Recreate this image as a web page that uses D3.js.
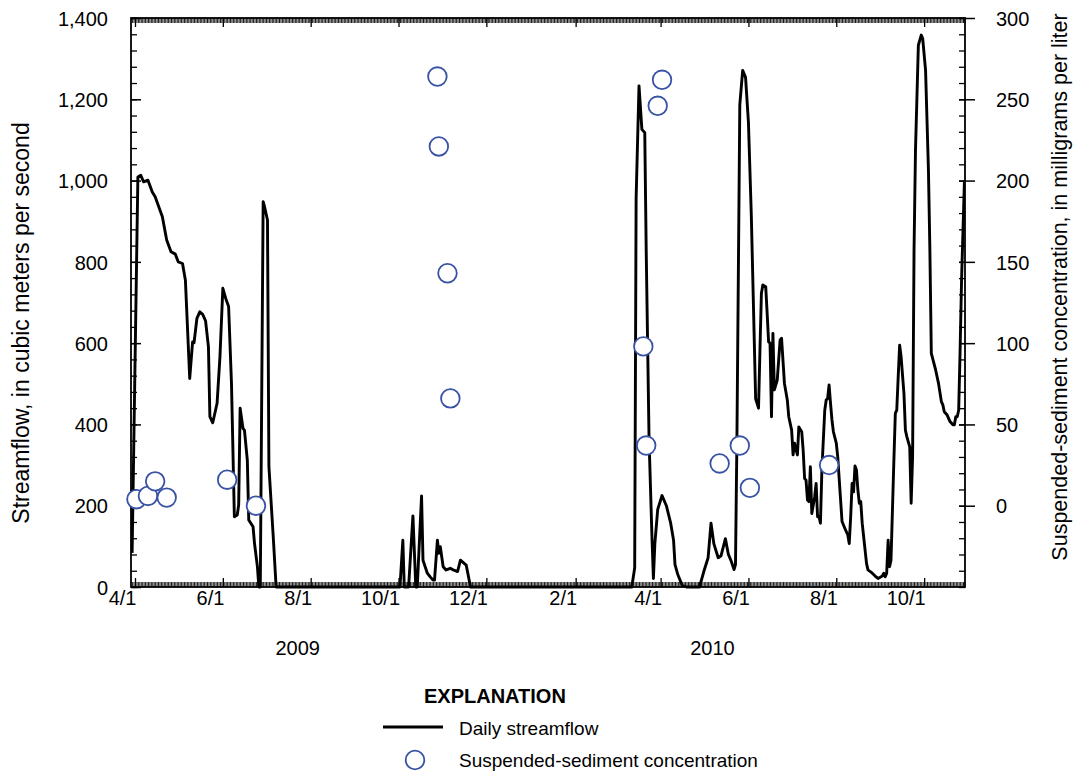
<!DOCTYPE html>
<html><head><meta charset="utf-8">
<script src="https://cdn.jsdelivr.net/npm/d3@7"></script>
<style>
html,body{margin:0;padding:0;background:#fff;}
svg{display:block;font-family:"Liberation Sans", Arial, sans-serif;}
</style></head><body>
<svg id="chart" width="1078" height="772"></svg>
<script>
// ---------------- DATA ----------------
const flowDates = [
"2009-03-30","2009-04-03","2009-04-05","2009-04-07","2009-04-10","2009-04-13","2009-04-15","2009-04-20","2009-04-23","2009-04-26",
"2009-04-29","2009-05-01","2009-05-04","2009-05-06","2009-05-09","2009-05-11","2009-05-12","2009-05-14","2009-05-16","2009-05-18",
"2009-05-20","2009-05-22","2009-05-23","2009-05-25","2009-05-28","2009-05-30","2009-06-01","2009-06-03","2009-06-05","2009-06-07",
"2009-06-09","2009-06-11","2009-06-12","2009-06-13","2009-06-15","2009-06-16","2009-06-18","2009-06-19","2009-06-22","2009-06-23",
"2009-06-25","2009-06-26","2009-06-27","2009-06-29","2009-06-30","2009-07-02","2009-07-03","2009-07-06","2009-07-08",
"2009-10-02","2009-10-04","2009-10-05","2009-10-08","2009-10-11","2009-10-13","2009-10-14","2009-10-17","2009-10-18","2009-10-21",
"2009-10-23","2009-10-25","2009-10-26","2009-10-28","2009-10-29","2009-10-30","2009-11-01","2009-11-03","2009-11-06","2009-11-08",
"2009-11-11","2009-11-13","2009-11-15","2009-11-17","2009-11-20",
"2010-03-12","2010-03-14","2010-03-15","2010-03-17","2010-03-19","2010-03-21","2010-03-22","2010-03-24","2010-03-26","2010-03-27",
"2010-03-28","2010-03-30","2010-04-02","2010-04-05","2010-04-08","2010-04-10","2010-04-11","2010-04-13","2010-04-16","2010-04-19",
"2010-04-28","2010-05-01","2010-05-04","2010-05-06","2010-05-08","2010-05-11","2010-05-13","2010-05-16","2010-05-18","2010-05-20",
"2010-05-22","2010-05-23","2010-05-24","2010-05-26","2010-05-28","2010-05-30","2010-06-01","2010-06-03","2010-06-06","2010-06-08",
"2010-06-09","2010-06-10","2010-06-11","2010-06-13","2010-06-14","2010-06-15","2010-06-16","2010-06-17","2010-06-18","2010-06-19",
"2010-06-21","2010-06-23","2010-06-24","2010-06-26","2010-06-28","2010-06-29","2010-07-01","2010-07-02","2010-07-03","2010-07-05",
"2010-07-06","2010-07-08","2010-07-09","2010-07-10","2010-07-11","2010-07-12","2010-07-13","2010-07-14","2010-07-15","2010-07-17",
"2010-07-18","2010-07-19","2010-07-20","2010-07-21","2010-07-22","2010-07-24","2010-07-25","2010-07-26","2010-07-27","2010-07-28",
"2010-07-29","2010-07-30","2010-08-01","2010-08-02","2010-08-04","2010-08-05","2010-08-07","2010-08-09","2010-08-10","2010-08-11",
"2010-08-12","2010-08-13","2010-08-14","2010-08-15","2010-08-16","2010-08-17","2010-08-18","2010-08-19","2010-08-20","2010-08-22",
"2010-08-23","2010-08-26","2010-08-28","2010-08-30","2010-09-02","2010-09-03","2010-09-04","2010-09-05","2010-09-06","2010-09-07",
"2010-09-08","2010-09-10","2010-09-11","2010-09-12","2010-09-13","2010-09-14","2010-09-15","2010-09-17","2010-09-18","2010-09-19",
"2010-09-21","2010-09-22","2010-09-23","2010-09-24","2010-09-25","2010-09-27","2010-09-29","2010-09-30","2010-10-02","2010-10-04",
"2010-10-05","2010-10-06","2010-10-09","2010-10-11","2010-10-13","2010-10-14","2010-10-15","2010-10-17","2010-10-19","2010-10-21",
"2010-10-22","2010-10-23","2010-10-24","2010-10-25","2010-10-26","2010-10-27","2010-10-29"
];
const flowValues = [
84,1009,1013,997,1001,972,960,911,854,825,
819,800,796,755,513,603,601,661,677,671,
655,591,419,404,452,567,735,710,690,501,
173,177,202,440,390,386,312,165,148,107,
50,0,0,948,935,903,296,124,0,
0,115,0,0,175,0,0,224,66,34,
25,17,17,115,83,99,50,42,46,42,
38,66,60,54,0,
0,47,956,1233,1126,1118,829,361,123,21,
106,191,225,200,157,115,55,30,4,0,
0,38,72,157,106,72,77,119,81,64,
43,55,361,1186,1271,1254,1143,914,463,440,
583,722,743,739,673,603,600,419,624,485,
509,608,612,501,460,419,386,325,354,325,
394,382,337,267,263,214,210,296,181,222,
255,173,173,157,288,435,460,464,497,452,
411,382,354,321,214,161,144,128,107,173,
255,234,298,288,239,206,210,157,124,58,
42,34,27,21,27,34,25,34,115,50,
66,312,427,435,517,595,567,476,386,370,
345,206,321,829,1074,1333,1358,1350,1272,1026,
829,575,534,501,456,448,431,423,407,399,
399,419,419,435,583,755,1000
];
const sscDates = [
"2009-04-02","2009-04-10","2009-04-15","2009-04-23","2009-06-04","2009-06-24",
"2009-10-28","2009-10-29","2009-11-04","2009-11-06",
"2010-03-20","2010-03-22","2010-03-30","2010-04-02","2010-05-12","2010-05-26","2010-06-02","2010-07-27"
];
const sscValues = [4,6,15,5,16,0, 264,221,143,66, 98,37,246,262,26,37,11,25];

const leftTicks = [0,200,400,600,800,1000,1200,1400];
const rightTicks = [0,50,100,150,200,250,300];
const monthTickDates = ["2009-04-01","2009-06-01","2009-08-01","2009-10-01","2009-12-01","2010-02-01","2010-04-01","2010-06-01","2010-08-01","2010-10-01"];
const monthTickLabels = ["4/1","6/1","8/1","10/1","12/1","2/1","4/1","6/1","8/1","10/1"];
const yearLabels = ["2009","2010"];
const yearLabelDates = ["2009-07-23","2010-05-07"];
const xDomain = ["2009-03-29T05:20:00Z","2010-10-29T09:20:00Z"];

// ---------------- DRAW ----------------
const svg = d3.select("#chart");
const P = {l:131, r:965, t:18, b:587};
const BLUE = "#3953a4";
const FONT = '"Liberation Sans", Arial, sans-serif';
const parse = s => new Date(s.length === 10 ? s + "T00:00:00Z" : s);

const x = d3.scaleUtc().domain(xDomain.map(parse)).range([P.l, P.r]);
const yL = d3.scaleLinear().domain([0,1400]).range([P.b, P.t]);
const yR = d3.scaleLinear().domain([-50,300]).range([P.b, P.t]);

const days = d3.utcDay.range(parse(xDomain[0]), parse(xDomain[1]));
const monthDates = monthTickDates.map(parse);

function styleAxis(g, w){
  g.select(".domain").remove();
  g.selectAll("line").attr("stroke","#000").attr("stroke-width", w);
}

// Bottom axis: daily ticks + labeled month ticks
svg.append("g").attr("transform",`translate(0,${P.b})`)
  .call(d3.axisBottom(x).tickValues(days).tickSize(-5).tickSizeOuter(0).tickFormat(""))
  .call(g=>styleAxis(g,0.9));
const bx = svg.append("g").attr("transform",`translate(0,${P.b})`)
  .call(d3.axisBottom(x).tickValues(monthDates).tickSize(-9).tickSizeOuter(0)
        .tickFormat((d,i)=>monthTickLabels[i]))
  .call(g=>styleAxis(g,1.3));
bx.selectAll("text").attr("y",18).attr("dy",null).attr("x",1)
  .attr("text-anchor","end").attr("font-size",20).attr("fill","#000")
  .attr("font-family",FONT);

// Top axis
svg.append("g").attr("transform",`translate(0,${P.t})`)
  .call(d3.axisTop(x).tickValues(days).tickSize(-5).tickSizeOuter(0).tickFormat(""))
  .call(g=>styleAxis(g,0.9));
svg.append("g").attr("transform",`translate(0,${P.t})`)
  .call(d3.axisTop(x).tickValues(monthDates).tickSize(-9).tickSizeOuter(0).tickFormat(""))
  .call(g=>styleAxis(g,1.3));

// Left axis
const minorL = d3.range(0,1401,40);
svg.append("g").attr("transform",`translate(${P.l},0)`)
  .call(d3.axisLeft(yL).tickValues(minorL).tickSize(-6).tickSizeOuter(0).tickFormat(""))
  .call(g=>styleAxis(g,1.3));
const la = svg.append("g").attr("transform",`translate(${P.l},0)`)
  .call(d3.axisLeft(yL).tickValues(leftTicks).tickSize(-10).tickSizeOuter(0).tickPadding(23).tickFormat(d3.format(",")))
  .call(g=>styleAxis(g,1.5));
la.selectAll("text").attr("font-size",20).attr("fill","#000").attr("dy","0.36em")
  .attr("font-family",FONT);

// Right axis
const minorR = d3.range(-50,301,10);
svg.append("g").attr("transform",`translate(${P.r},0)`)
  .call(d3.axisRight(yR).tickValues(minorR).tickSize(-6).tickSizeOuter(0).tickFormat(""))
  .call(g=>styleAxis(g,1.3));
const ra = svg.append("g").attr("transform",`translate(${P.r},0)`)
  .call(d3.axisRight(yR).tickValues(rightTicks).tickSize(10).tickSizeOuter(0).tickPadding(21))
  .call(g=>styleAxis(g,1.5));
ra.selectAll(".tick line").attr("x1",-6);
ra.selectAll("text").attr("font-size",20).attr("fill","#000").attr("dy","0.36em")
  .attr("font-family",FONT);

// Frame
svg.append("rect").attr("x",P.l).attr("y",P.t).attr("width",P.r-P.l).attr("height",P.b-P.t)
  .attr("fill","none").attr("stroke","#000").attr("stroke-width",1.8);

// Clip
svg.append("clipPath").attr("id","clip").append("rect")
  .attr("x",P.l).attr("y",P.t-2).attr("width",P.r-P.l).attr("height",P.b-P.t+4);

// Streamflow line
const flow = flowDates.map((d,i)=>({date:parse(d), v:flowValues[i]}));
svg.append("path").datum(flow).attr("clip-path","url(#clip)")
  .attr("fill","none").attr("stroke","#000").attr("stroke-width",2.9)
  .attr("stroke-linejoin","round")
  .attr("d", d3.line().x(d=>x(d.date)).y(d=>yL(d.v)));

// SSC circles
const ssc = sscDates.map((d,i)=>({date:parse(d), v:sscValues[i]}));
svg.append("g").selectAll("circle").data(ssc).join("circle")
  .attr("cx",d=>x(d.date)).attr("cy",d=>yR(d.v)).attr("r",9.3)
  .attr("fill","#fff").attr("stroke",BLUE).attr("stroke-width",1.8);

// Year labels
svg.append("g").selectAll("text").data(yearLabels).join("text")
  .attr("x",(d,i)=>x(parse(yearLabelDates[i]))).attr("y",655)
  .attr("text-anchor","middle").attr("font-size",20).text(d=>d);

// Axis titles
svg.append("text").attr("transform","translate(29,323) rotate(-90)")
  .attr("text-anchor","middle").attr("font-size",23)
  .text("Streamflow, in cubic meters per second");
svg.append("text").attr("transform","translate(1067,287) rotate(-90)")
  .attr("text-anchor","middle").attr("font-size",21.5)
  .text("Suspended-sediment concentration, in milligrams per liter");

// Legend
svg.append("text").attr("x",424).attr("y",703).attr("font-size",20).attr("font-weight","bold")
  .text("EXPLANATION");
svg.append("line").attr("x1",383).attr("x2",443).attr("y1",727).attr("y2",727)
  .attr("stroke","#000").attr("stroke-width",2.8);
svg.append("text").attr("x",459).attr("y",735).attr("font-size",19).text("Daily streamflow");
svg.append("circle").attr("cx",415).attr("cy",760).attr("r",9.3)
  .attr("fill","#fff").attr("stroke",BLUE).attr("stroke-width",1.8);
svg.append("text").attr("x",459).attr("y",767).attr("font-size",19).text("Suspended-sediment concentration");
</script>
</body></html>
